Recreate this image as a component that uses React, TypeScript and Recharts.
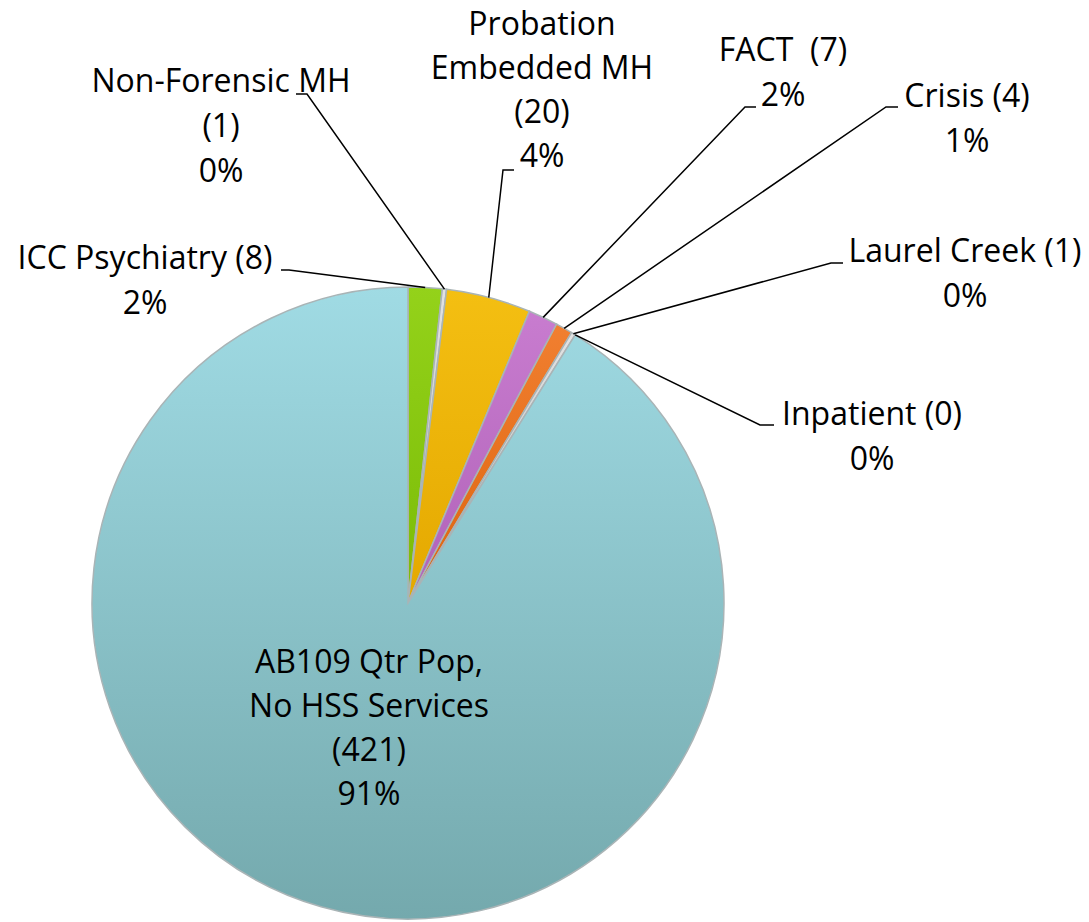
import React from 'react';
import { PieChart, Pie, Cell } from 'recharts';

// ---- data ----
const CATEGORIES = [
  'ICC Psychiatry',
  'Non-Forensic MH',
  'Probation Embedded MH',
  'FACT',
  'Crisis',
  'Laurel Creek',
  'Inpatient',
  'AB109 Qtr Pop, No HSS Services',
];
const COUNTS = [8, 1, 20, 7, 4, 1, 0, 421];
const LABEL_NAME_LINES: string[][] = [
  ['ICC Psychiatry'],
  ['Non-Forensic MH'],
  ['Probation', 'Embedded MH'],
  ['FACT '],
  ['Crisis'],
  ['Laurel Creek'],
  ['Inpatient'],
  ['AB109 Qtr Pop,', 'No HSS Services'],
];

// ---- styling / layout ----
const COLORS = [
  ['#94d21a', '#7abb06'],
  ['#e2e2e2', '#bdbdbd'],
  ['#f4bf12', '#e4a800'],
  ['#c87ccf', '#b062b8'],
  ['#f17f30', '#dc640e'],
  ['#e2e2e2', '#bdbdbd'],
  ['#e2e2e2', '#bdbdbd'],
  ['#a0dbe4', '#74a9ad'],
];

type Layout = {
  tx: number; // text centre x
  ty: number; // first baseline
  lh: number; // line height
  inline: boolean; // count on the same line as name
  leader?: [number, number][]; // elbow points from slice edge to text
};

const LABEL_LAYOUT: Layout[] = [
  { tx: 145, ty: 269, lh: 45, inline: true, leader: [[289, 270], [281, 270]] },
  { tx: 221, ty: 92, lh: 45, inline: false, leader: [[307, 94], [296, 94]] },
  { tx: 542, ty: 35, lh: 44, inline: false, leader: [[503, 170], [514, 170]] },
  { tx: 783, ty: 61, lh: 45, inline: true, leader: [[745, 107], [756, 107]] },
  { tx: 967, ty: 107, lh: 45, inline: true, leader: [[886, 107], [898, 107]] },
  { tx: 965, ty: 262, lh: 45, inline: true, leader: [[831, 263], [843, 263]] },
  { tx: 872, ty: 425, lh: 45, inline: true, leader: [[760, 425], [774, 425]] },
  { tx: 369, ty: 673, lh: 44, inline: false },
];

const FONT = '"Open Sans", sans-serif';
const TOTAL = COUNTS.reduce((a, b) => a + b, 0);

const data = CATEGORIES.map((name, i) => ({ name, value: COUNTS[i] }));

function buildLines(i: number): string[] {
  const lines = [...LABEL_NAME_LINES[i]];
  const countStr = `(${COUNTS[i]})`;
  if (LABEL_LAYOUT[i].inline) {
    lines[lines.length - 1] = lines[lines.length - 1] + ' ' + countStr;
  } else {
    lines.push(countStr);
  }
  lines.push(`${Math.round((COUNTS[i] / TOTAL) * 100)}%`);
  return lines;
}

const RAD = Math.PI / 180;

const renderLabel = (props: any) => {
  const { cx, cy, midAngle, outerRadius, index } = props;
  const lay = LABEL_LAYOUT[index];
  const lines = buildLines(index);
  let leader = null;
  if (lay.leader) {
    const sx = cx + outerRadius * Math.cos(-midAngle * RAD);
    const sy = cy + outerRadius * Math.sin(-midAngle * RAD);
    const pts = [[sx, sy], ...lay.leader].map((p) => p.join(',')).join(' ');
    leader = <polyline points={pts} fill="none" stroke="#000" strokeWidth={1.5} />;
  }
  return (
    <g key={`lbl-${index}`}>
      {leader}
      <text
        x={lay.tx}
        y={lay.ty}
        textAnchor="middle"
        fontFamily={FONT}
        fontSize={32}
        fill="#000"
        style={{ whiteSpace: 'pre' }}
      >
        {lines.map((l, k) => (
          <tspan key={k} x={lay.tx} y={lay.ty + k * lay.lh}>
            {l}
          </tspan>
        ))}
      </text>
    </g>
  );
};

export default function App() {
  return (
    <div style={{ position: 'absolute', left: 0, top: 0, background: '#fff' }}>
      <PieChart width={1089} height={922} margin={{ top: 0, right: 0, bottom: 0, left: 0 }}>
        <defs>
          {COLORS.map((c, i) => (
            <linearGradient key={i} id={`grad${i}`} x1="0" y1="0" x2="0" y2="1">
              <stop offset="0%" stopColor={c[0]} />
              <stop offset="100%" stopColor={c[1]} />
            </linearGradient>
          ))}
        </defs>
        <Pie
          data={data}
          dataKey="value"
          nameKey="name"
          cx={408}
          cy={603}
          outerRadius={316}
          startAngle={90}
          endAngle={-270}
          stroke="#a9b4b6"
          strokeWidth={1.5}
          label={renderLabel}
          labelLine={false}
          isAnimationActive={false}
        >
          {data.map((_, i) => (
            <Cell key={i} fill={`url(#grad${i})`} />
          ))}
        </Pie>
      </PieChart>
    </div>
  );
}
